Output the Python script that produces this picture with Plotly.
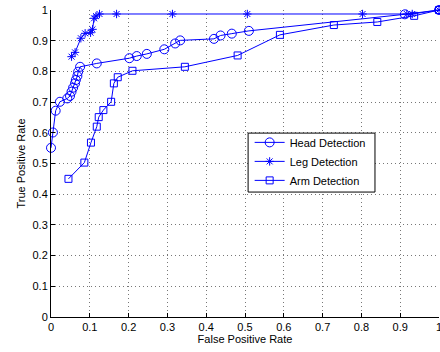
import plotly.graph_objects as go

head_fpr = [0.0, 0.005, 0.012, 0.023, 0.042, 0.049, 0.053, 0.057, 0.062, 0.064, 0.068, 0.070, 0.075,
            0.118, 0.202, 0.221, 0.247, 0.292, 0.320, 0.333, 0.420, 0.437, 0.466, 0.510, 0.912, 1.0]
head_tpr = [0.551, 0.601, 0.672, 0.701, 0.712, 0.720, 0.734, 0.747, 0.761, 0.772, 0.785, 0.799, 0.815,
            0.826, 0.843, 0.850, 0.857, 0.872, 0.891, 0.901, 0.906, 0.917, 0.923, 0.932, 0.986, 1.0]

leg_fpr = [0.053, 0.062, 0.077, 0.088, 0.102, 0.107, 0.111, 0.116, 0.125, 0.169, 0.313, 0.506,
           0.803, 0.917, 0.931, 1.0]
leg_tpr = [0.848, 0.862, 0.908, 0.924, 0.926, 0.937, 0.973, 0.980, 0.987, 0.987, 0.987, 0.987,
           0.987, 0.987, 0.987, 1.0]

arm_fpr = [0.045, 0.086, 0.103, 0.118, 0.123, 0.135, 0.155, 0.162, 0.172, 0.210, 0.345, 0.481,
           0.590, 0.729, 0.841, 0.936, 1.0]
arm_tpr = [0.450, 0.503, 0.568, 0.620, 0.651, 0.674, 0.701, 0.761, 0.781, 0.802, 0.815, 0.852,
           0.919, 0.951, 0.961, 0.981, 1.0]

tick_vals = [0, 0.1, 0.2, 0.3, 0.4, 0.5, 0.6, 0.7, 0.8, 0.9, 1]
tick_text = ["0", "0.1", "0.2", "0.3", "0.4", "0.5", "0.6", "0.7", "0.8", "0.9", "1"]

blue = "rgb(0,0,255)"
fig = go.Figure()
fig.add_trace(go.Scatter(x=head_fpr, y=head_tpr, mode="lines+markers", name="Head Detection",
                         line=dict(color=blue, width=1), cliponaxis=False,
                         marker=dict(symbol="circle-open", size=9, color=blue, line=dict(width=1, color=blue))))
fig.add_trace(go.Scatter(x=leg_fpr, y=leg_tpr, mode="lines+markers", name="Leg Detection",
                         line=dict(color=blue, width=1), cliponaxis=False,
                         marker=dict(symbol="asterisk-open", size=7, color=blue, line=dict(width=1, color=blue))))
fig.add_trace(go.Scatter(x=arm_fpr, y=arm_tpr, mode="lines+markers", name="Arm Detection",
                         line=dict(color=blue, width=1), cliponaxis=False,
                         marker=dict(symbol="square-open", size=7, color=blue, line=dict(width=1, color=blue))))

axis_common = dict(range=[0, 1], tickvals=tick_vals, ticktext=tick_text, showgrid=True,
                   gridcolor="#777777", griddash="1px,3px", gridwidth=1, zeroline=False,
                   showline=True, linecolor="black", linewidth=1, ticks="inside", ticklen=4,
                   tickcolor="black", tickfont=dict(size=11, color="black"), automargin=False,
                   ticklabeloverflow="allow")

# legend frame
fig.add_shape(type="rect", xref="paper", yref="paper", x0=0.508, x1=0.835, y0=0.407, y1=0.599,
              fillcolor="white", line=dict(color="black", width=1), layer="above")

fig.update_layout(
    width=440, height=352,
    margin=dict(l=51, r=1, t=10, b=35),
    plot_bgcolor="white", paper_bgcolor="white",
    font=dict(family="Liberation Sans, Arial, sans-serif", size=11, color="black"),
    xaxis=dict(**axis_common, title=dict(text="False Positive Rate", font=dict(size=11), standoff=0)),
    yaxis=dict(**axis_common, title=dict(text="True Positive Rate", font=dict(size=11), standoff=4)),
    legend=dict(x=0.512, y=0.616, xanchor="left", yanchor="top", bgcolor="rgba(0,0,0,0)",
                borderwidth=0, font=dict(size=11), tracegroupgap=0, itemwidth=30),
    showlegend=True,
)
fig.write_html("out.html", config={"displayModeBar": False},
               post_script="document.body.style.margin='0';document.body.style.overflow='hidden';")
